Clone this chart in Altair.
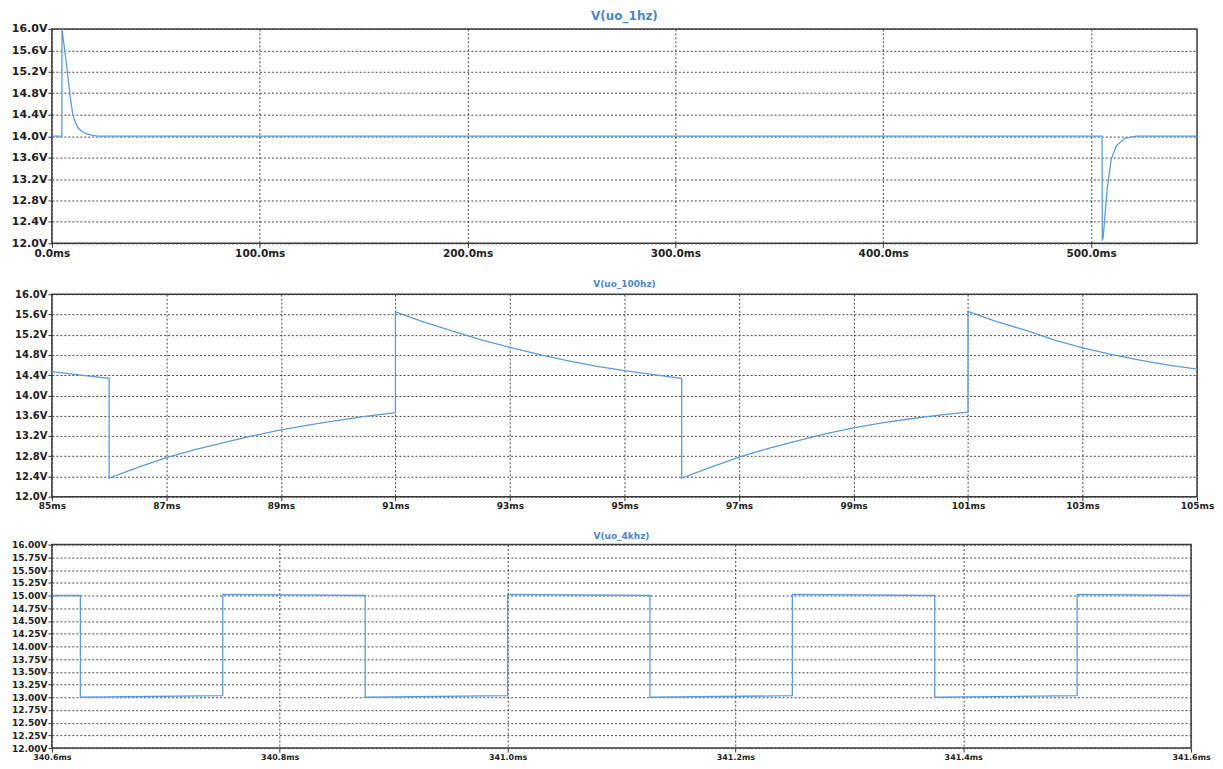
import altair as alt
import pandas as pd

# ---------------- data ----------------
# Panel 1: V(uo_1hz), time in ms, voltage in V
t1 = [0.0, 4.8, 4.85, 5.5, 6.0, 7.0, 8.0, 9.0, 10.0, 11.0, 12.5, 14.0, 16.0, 19.0, 22.0,
      505.3, 505.4, 505.8, 506.6, 507.8, 509.7, 512.2, 516.2, 521.7, 551.0]
v1 = [14.0, 14.0, 16.0, 15.8, 15.65, 15.35, 15.0, 14.68, 14.42, 14.28, 14.16, 14.1, 14.05, 14.02, 14.0,
      14.0, 12.05, 12.1, 12.47, 13.02, 13.57, 13.82, 13.96, 14.0, 14.0]

# Panel 2: V(uo_100hz)
t2 = [85.0, 85.5, 86.0, 86.0, 86.5, 87.0, 87.5, 88.0, 88.5, 89.0, 89.5, 90.0, 90.5, 91.0,
      91.0, 91.5, 92.0, 92.5, 93.0, 93.5, 94.0, 94.5, 95.0, 95.5, 96.0,
      96.0, 96.5, 97.0, 97.5, 98.0, 98.5, 99.0, 99.5, 100.0, 100.5, 101.0,
      101.0, 101.5, 102.0, 102.5, 103.0, 103.5, 104.0, 104.5, 105.0]
v2 = [14.47, 14.4, 14.34, 12.37, 12.58, 12.77, 12.93, 13.07, 13.2, 13.32, 13.42, 13.51, 13.59, 13.66,
      15.65, 15.45, 15.27, 15.1, 14.95, 14.81, 14.69, 14.58, 14.49, 14.41, 14.34,
      12.37, 12.58, 12.78, 12.95, 13.1, 13.24, 13.36, 13.46, 13.54, 13.61, 13.67,
      15.66, 15.46, 15.29, 15.1, 14.94, 14.81, 14.7, 14.6, 14.52]

# Panel 3: V(uo_4khz)
t3 = [340.6, 340.625, 340.625, 340.75, 340.75, 340.875, 340.875, 341.0, 341.0, 341.125,
      341.125, 341.25, 341.25, 341.375, 341.375, 341.5, 341.5, 341.6]
v3 = [15.0, 15.0, 13.0, 13.03, 15.02, 15.0, 13.0, 13.03, 15.02, 15.0,
      13.0, 13.03, 15.02, 15.0, 13.0, 13.03, 15.02, 15.0]

# axis tick values
x1_ticks = [0, 100, 200, 300, 400, 500]
y1_ticks = [12.0, 12.4, 12.8, 13.2, 13.6, 14.0, 14.4, 14.8, 15.2, 15.6, 16.0]
x2_ticks = [85, 87, 89, 91, 93, 95, 97, 99, 101, 103, 105]
y2_ticks = [12.0, 12.4, 12.8, 13.2, 13.6, 14.0, 14.4, 14.8, 15.2, 15.6, 16.0]
x3_ticks = [340.6, 340.8, 341.0, 341.2, 341.4, 341.6]
y3_ticks = [12.0, 12.25, 12.5, 12.75, 13.0, 13.25, 13.5, 13.75, 14.0, 14.25, 14.5, 14.75,
            15.0, 15.25, 15.5, 15.75, 16.0]

titles = ["V(uo_1hz)", "V(uo_100hz)", "V(uo_4khz)"]

FONT = "DejaVu Sans"
LINE = "#5b9bd8"
TITLE_COLOR = "#4a86c8"


def make_df(t, v):
    return pd.DataFrame({"t": t, "v": v, "i": list(range(len(t)))})


def panel(df, title, xdom, xvals, xfmt, ydom, yvals, yfmt, w, h, xfs, yfs, tfs):
    return alt.Chart(df).mark_line(color=LINE, strokeWidth=1.3, clip=True).encode(
        x=alt.X("t:Q",
                scale=alt.Scale(domain=xdom, nice=False, zero=False),
                axis=alt.Axis(values=xvals, title=None, labelFontSize=xfs, labelFlush=False,
                              labelExpr=f"format(datum.value, '{xfmt}') + 'ms'")),
        y=alt.Y("v:Q",
                scale=alt.Scale(domain=ydom, nice=False, zero=False),
                axis=alt.Axis(values=yvals, title=None, labelFontSize=yfs,
                              minExtent=43, maxExtent=43,
                              labelExpr=f"format(datum.value, '{yfmt}') + 'V'")),
        order="i:Q",
    ).properties(
        width=w, height=h,
        title=alt.TitleParams(title, fontSize=tfs, color=TITLE_COLOR, anchor="middle",
                              frame="group", offset=0, font=FONT, fontWeight="bold"),
    )


p1 = panel(make_df(t1, v1), titles[0], [0, 551], x1_ticks, ".1f", [12, 16], y1_ticks, ".1f",
           1148, 215, 10.5, 11, 12)
p2 = panel(make_df(t2, v2), titles[1], [85, 105], x2_ticks, "d", [12, 16], y2_ticks, ".1f",
           1148, 203, 9, 10, 9)
p3 = panel(make_df(t3, v3), titles[2], [340.6, 341.6], x3_ticks, ".1f", [12, 16], y3_ticks, ".2f",
           1142, 204, 8, 9, 9)

chart = alt.vconcat(p1, p2, p3, spacing=19).properties(
    padding=0, background="white"
).configure_view(
    stroke="#3a3a3a", strokeWidth=1.5
).configure_axis(
    labelFont=FONT, labelFontWeight="bold", labelColor="#222222",
    tickColor="#333333", tickSize=4, labelPadding=1, domain=False,
    grid=True, gridDash=[2, 2], gridColor="#444444", gridWidth=1,
)

chart.save("out.html", embed_options={"renderer": "svg", "actions": False})
